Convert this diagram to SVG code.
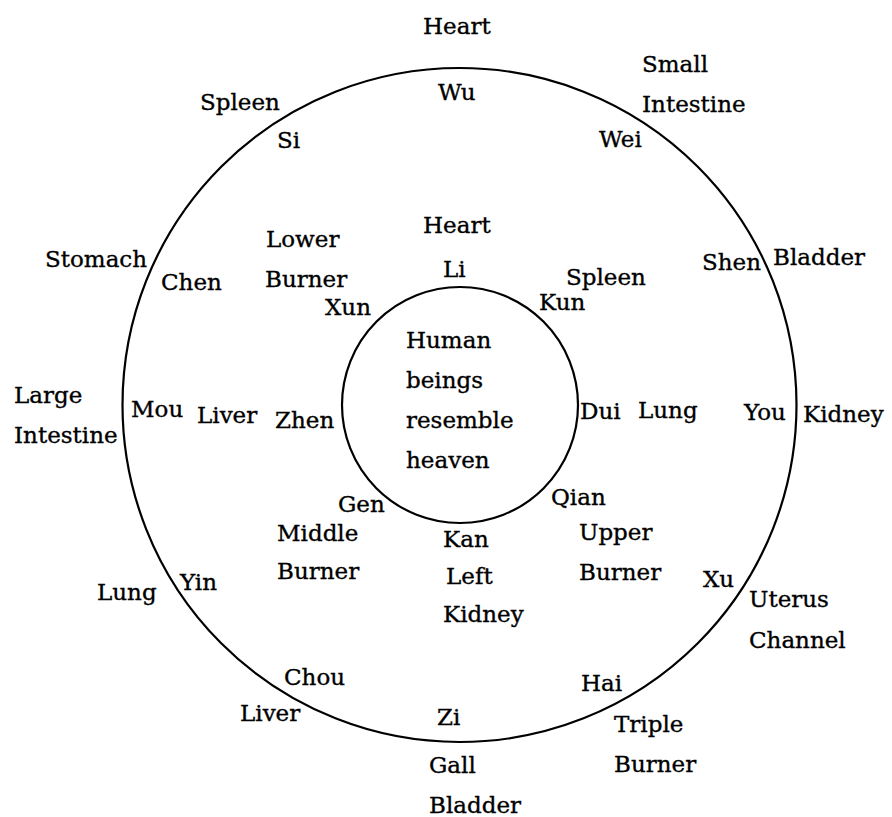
<svg xmlns="http://www.w3.org/2000/svg" width="892" height="817" viewBox="0 0 892 817">
<style>
text{font-family:"DejaVu Serif","Liberation Serif",serif;font-size:23px;fill:#000;stroke:#000;stroke-width:0.35}
.ring{fill:none;stroke:#000;stroke-width:2.2}
</style>
<rect width="892" height="817" fill="#fff"/>
<g id="outer-circle"><circle class="ring" cx="459.5" cy="405" r="337"/></g>
<g id="inner-circle"><circle class="ring" cx="460" cy="405" r="118"/>
<text x="406" y="348">Human</text><text x="406" y="388">beings</text><text x="406" y="428">resemble</text><text x="406" y="468">heaven</text></g>
<g id="outer-labels">
<text x="423" y="34">Heart</text>
<text x="642" y="72">Small</text><text x="642" y="112">Intestine</text>
<text x="200" y="110">Spleen</text>
<text x="45" y="267">Stomach</text>
<text x="773" y="265">Bladder</text>
<text x="14" y="403">Large</text><text x="14" y="443">Intestine</text>
<text x="803" y="422">Kidney</text>
<text x="97" y="600">Lung</text>
<text x="749" y="607">Uterus</text><text x="749" y="648">Channel</text>
<text x="240" y="721">Liver</text>
<text x="614" y="732">Triple</text><text x="614" y="772">Burner</text>
<text x="429" y="773">Gall</text><text x="429" y="813">Bladder</text>
</g>
<g id="branch-labels">
<text x="438" y="100">Wu</text>
<text x="277" y="148">Si</text>
<text x="599" y="147">Wei</text>
<text x="161" y="290">Chen</text>
<text x="702" y="270">Shen</text>
<text x="131" y="417">Mou</text>
<text x="744" y="420">You</text>
<text x="180" y="590">Yin</text>
<text x="703" y="587">Xu</text>
<text x="284" y="685">Chou</text>
<text x="581" y="691">Hai</text>
<text x="437" y="725">Zi</text>
</g>
<g id="trigram-labels">
<text x="423" y="233">Heart</text>
<text x="443" y="277">Li</text>
<text x="266" y="247">Lower</text><text x="265" y="287">Burner</text>
<text x="325" y="315">Xun</text>
<text x="566" y="285">Spleen</text>
<text x="539" y="310">Kun</text>
<text x="197" y="423">Liver</text>
<text x="275" y="428">Zhen</text>
<text x="580" y="419">Dui</text>
<text x="638" y="418">Lung</text>
<text x="338" y="512">Gen</text>
<text x="551" y="505">Qian</text>
<text x="277" y="541">Middle</text><text x="277" y="579">Burner</text>
<text x="443" y="547">Kan</text><text x="446" y="584">Left</text><text x="443" y="622">Kidney</text>
<text x="579" y="540">Upper</text><text x="579" y="580">Burner</text>
</g>
</svg>
